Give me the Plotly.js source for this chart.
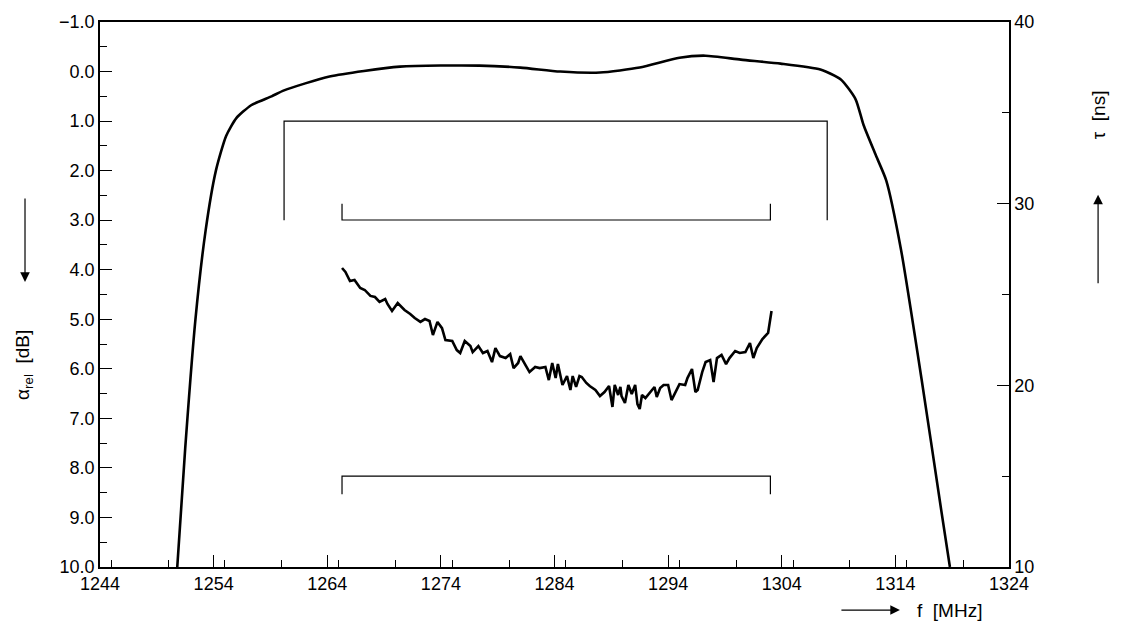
<!DOCTYPE html>
<html>
<head>
<meta charset="utf-8">
<script src="https://cdn.plot.ly/plotly-3.0.1.min.js"></script>
<style>body{margin:0;background:#fff}</style>
</head>
<body>
<div id="plot" style="width:1121px;height:635px"></div>
<script>
// attenuation (left axis, dB)
var attF = [1250.8,1251.5,1252.4,1253.3,1254.2,1255.1,1256.0,1257.3,1259.1,1260.2,1264.2,1270.4,1277.4,1281.0,1284.5,1288.0,1291.5,1295.0,1297.3,1300.4,1303.9,1307.4,1309.2,1310.5,1311.2,1312.3,1313.2,1314.5,1316.3,1318.0,1318.8];
var attDb = [10.0,7.6,5.0,3.2,2.0,1.3,0.94,0.68,0.5,0.38,0.1,-0.1,-0.12,-0.08,0.0,0.02,-0.08,-0.28,-0.32,-0.24,-0.16,-0.04,0.16,0.56,1.08,1.7,2.2,3.6,6.2,8.8,10.0];

// group delay (right axis, ns)
var tauF = [1265.3,1265.6,1266.0,1266.4,1266.9,1267.3,1267.8,1268.2,1268.6,1269.1,1269.3,1269.7,1270.2,1270.8,1271.3,1271.7,1272.2,1272.6,1273.0,1273.3,1273.7,1274.1,1274.4,1275.0,1275.4,1275.7,1276.1,1276.6,1276.8,1277.3,1277.7,1278.1,1278.5,1278.8,1279.2,1279.7,1280.1,1280.4,1280.8,1281.0,1281.5,1281.8,1282.3,1282.7,1283.2,1283.5,1283.8,1284.1,1284.3,1284.7,1285.1,1285.4,1285.6,1285.9,1286.2,1286.4,1286.8,1287.1,1287.6,1288.0,1288.4,1288.8,1289.1,1289.3,1289.6,1289.8,1289.9,1290.2,1290.5,1290.8,1291.1,1291.3,1291.5,1291.7,1292.0,1292.4,1292.8,1293.0,1293.3,1293.6,1294.0,1294.3,1294.7,1295.0,1295.5,1295.7,1296.1,1296.4,1296.6,1297.0,1297.3,1297.7,1298.0,1298.3,1298.7,1299.1,1299.4,1299.9,1300.3,1300.8,1301.2,1301.5,1301.8,1302.3,1302.8,1303.1];
var tauNs = [26.46,26.24,25.74,25.80,25.36,25.25,24.92,24.86,24.59,24.75,24.48,24.09,24.53,24.15,23.93,23.71,23.49,23.65,23.54,22.77,23.49,23.15,22.49,22.44,21.94,21.78,22.44,22.16,21.83,22.16,21.78,21.89,21.28,22.05,21.61,21.50,21.72,20.95,21.23,21.61,21.06,20.73,21.01,20.95,21.01,20.29,21.23,20.40,21.17,20.02,20.51,19.74,20.51,19.91,20.51,20.46,20.13,19.96,19.74,19.41,19.63,19.96,18.81,20.02,19.47,19.91,19.41,19.03,20.02,19.52,20.02,18.97,18.70,19.47,19.30,19.58,19.91,19.36,19.85,20.02,20.02,19.19,19.69,20.07,20.02,20.40,20.90,19.63,19.74,20.73,21.28,21.39,20.18,21.50,21.67,21.17,21.50,21.89,21.78,21.83,22.33,21.50,22.05,22.55,22.88,24.09];

// spec masks
var maskAttF = [1260.2,1260.2,1308.0,1308.0];
var maskAttDb = [3.0,1.0,1.0,3.0];
var maskTauF = [1265.3,1265.3,1303.0,1303.0];
var maskTauHi = [30,29.1,29.1,30];
var maskTauLo = [14,15,15,14];

var thin = {color:'#000', width:1.2};
var data = [
  {x:attF, y:attDb, mode:'lines', line:{color:'#000', width:2.6, shape:'spline', smoothing:0.6}},
  {x:tauF, y:tauNs, yaxis:'y2', mode:'lines', line:{color:'#000', width:2.6}},
  {x:maskAttF, y:maskAttDb, mode:'lines', line:thin},
  {x:maskTauF, y:maskTauHi, yaxis:'y2', mode:'lines', line:thin},
  {x:maskTauF, y:maskTauLo, yaxis:'y2', mode:'lines', line:thin}
];

var fnt = {family:'Liberation Sans', size:19, color:'#000'};
function label(text, x, y, angle) {
  return {text:text, textangle:angle, xref:'paper', yref:'paper', x:x, y:y,
    xanchor:'center', yanchor:'middle', showarrow:false, font:fnt};
}
function arrow(x, y, ax, ay) {
  return {xref:'paper', yref:'paper', x:x, y:y, ax:ax, ay:ay, text:'', showarrow:true,
    arrowhead:2, arrowsize:1.6, arrowwidth:1.2, arrowcolor:'#000'};
}
var layout = {
  width:1121, height:635, showlegend:false,
  margin:{l:100, r:112, t:22, b:68},
  paper_bgcolor:'#fff', plot_bgcolor:'#fff',
  font:{family:'Liberation Sans', size:18, color:'#000'},
  xaxis:{range:[1244,1324], tick0:1244, dtick:10, ticks:'inside', ticklen:12, tickcolor:'#000',
    minor:{dtick:5, ticks:'inside', ticklen:7, tickcolor:'#000'},
    showline:true, linecolor:'#000', linewidth:1.5, mirror:true, showgrid:false, zeroline:false},
  yaxis:{range:[10,-1], dtick:1, tickformat:'.1f', ticks:'inside', ticklen:12, tickcolor:'#000',
    minor:{dtick:0.5, ticks:'inside', ticklen:7, tickcolor:'#000'},
    showline:true, linecolor:'#000', linewidth:1.5, showgrid:false, zeroline:false},
  yaxis2:{overlaying:'y', side:'right', range:[10,40], dtick:10, ticks:'inside', ticklen:12, tickcolor:'#000',
    minor:{dtick:5, ticks:'inside', ticklen:7, tickcolor:'#000'},
    showline:true, linecolor:'#000', linewidth:1.5, showgrid:false, zeroline:false},
  annotations:[
    label('α<sub>rel</sub>  [dB]', -0.083, 0.37, -90),
    arrow(-0.0825, 0.523, 0, -85),
    label('τ  [ns]', 1.098, 0.829, -90),
    arrow(1.098, 0.683, 0, 90),
    label('f  [MHz]', 0.935, -0.079, 0),
    arrow(0.880, -0.079, -60, 0)
  ]
};
Plotly.newPlot('plot', data, layout, {displayModeBar:false});
</script>
</body>
</html>
